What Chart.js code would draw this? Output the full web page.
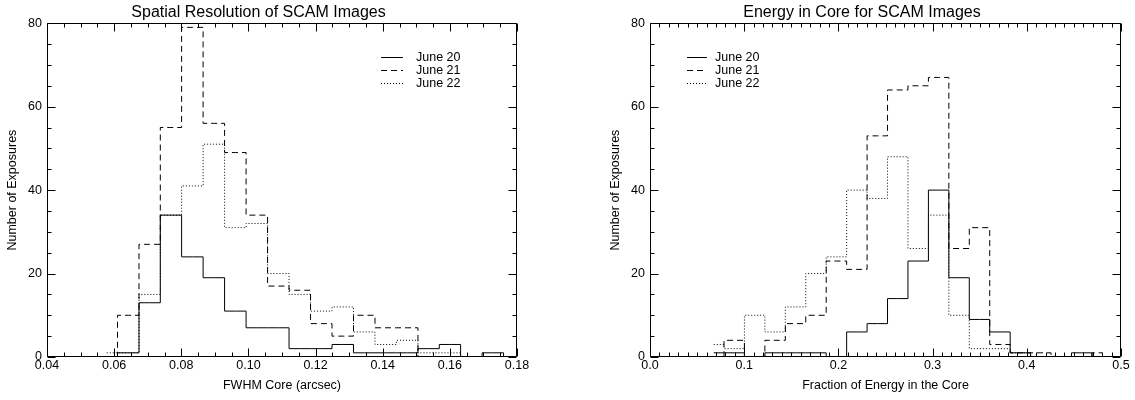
<!DOCTYPE html>
<html>
<head>
<meta charset="utf-8">
<script src="https://cdn.jsdelivr.net/npm/chart.js@4.4.0/dist/chart.umd.min.js"></script>
<style>
  body { margin: 0; background: #fff; width: 1135px; height: 400px; overflow: hidden; position: relative; }
  canvas { position: absolute; top: 0; }
  #fwhmChart { left: 0; }
  #energyChart { left: 603px; }
</style>
</head>
<body>
<canvas id="fwhmChart" width="567" height="400"></canvas>
<canvas id="energyChart" width="532" height="400"></canvas>
<script>
// FWHM histogram: bin centres (arcsec) and counts per night
const fwhmBins = [0.0578, 0.0642, 0.0706, 0.0769, 0.0833, 0.0897, 0.0961, 0.1025, 0.1089, 0.1153,
                  0.1217, 0.1281, 0.1345, 0.1409, 0.1473, 0.1537, 0.1600, 0.1664, 0.1728, 0.1792];
const fwhmJune20 = [0, 1, 13, 34, 24, 19, 11, 7, 7, 2, 2, 3, 1, 1, 1, 2, 3, 0, 1, 0];
const fwhmJune21 = [0, 10, 27, 55, 79, 56, 49, 34, 17, 16, 8, 5, 10, 7, 7, 0, 0, 0, 0, 0];
const fwhmJune22 = [1, 1, 15, 34, 41, 51, 31, 32, 20, 15, 11, 12, 6, 3, 4, 1, 1, 0, 0, 0];

// Energy-in-core histogram: bin centres (fraction) and counts per night
const energyBins = [0.0677, 0.0894, 0.1111, 0.1328, 0.1545, 0.1762, 0.1979, 0.2196, 0.2413, 0.2630,
                    0.2847, 0.3064, 0.3281, 0.3498, 0.3715, 0.3932, 0.4149, 0.4366, 0.4583, 0.4800];
const energyJune20 = [1, 1, 0, 1, 1, 1, 0, 6, 8, 14, 23, 40, 19, 9, 6, 1, 0, 0, 1, 0];
const energyJune21 = [0, 4, 0, 4, 8, 10, 23, 21, 53, 64, 65, 67, 26, 31, 3, 1, 1, 0, 0, 1];
const energyJune22 = [3, 2, 10, 6, 12, 20, 24, 40, 38, 48, 26, 34, 10, 2, 2, 1, 0, 0, 0, 0];

const nights = ['June 20', 'June 21', 'June 22'];
const FONT = "'Liberation Sans', Arial, Helvetica, sans-serif";

function steps(min, max, step) {
  const n = Math.round((max - min) / step);
  const out = [];
  for (let i = 0; i <= n; i++) out.push(min + i * step);
  return out;
}

// box around the plot with inward ticks on all four sides (IDL style)
const idlFrame = {
  id: 'idlFrame',
  afterDatasetsDraw(chart, args, opts) {
    const { ctx, chartArea: a, scales: { x, y } } = chart;
    const L = Math.round(a.left) + 0.5, R = Math.round(a.right) - 0.5;
    const T = Math.round(a.top) + 0.5, B = Math.round(a.bottom) - 0.5;
    ctx.save();
    ctx.strokeStyle = '#000';
    ctx.lineWidth = 1;
    ctx.beginPath();
    ctx.rect(L, T, R - L, B - T);
    steps(x.min, x.max, opts.xMinor).forEach(v => {
      const r = (v - x.min) / opts.xMajor;
      const len = Math.abs(r - Math.round(r)) < 1e-6 ? 8 : 4;
      const px = Math.round(x.getPixelForValue(v)) + 0.5;
      ctx.moveTo(px, B); ctx.lineTo(px, B - len);
      ctx.moveTo(px, T); ctx.lineTo(px, T + len);
    });
    steps(y.min, y.max, opts.yMinor).forEach(v => {
      const r = (v - y.min) / opts.yMajor;
      const len = Math.abs(r - Math.round(r)) < 1e-6 ? 8 : 4;
      const py = Math.round(y.getPixelForValue(v)) + 0.5;
      ctx.moveTo(L, py); ctx.lineTo(L + len, py);
      ctx.moveTo(R, py); ctx.lineTo(R - len, py);
    });
    ctx.stroke();
    ctx.restore();
  }
};

// legend drawn inside the plot
const idlLegend = {
  id: 'idlLegend',
  afterDraw(chart, args, opts) {
    const { ctx, chartArea: a } = chart;
    ctx.save();
    ctx.font = '12.5px ' + FONT;
    ctx.textBaseline = 'middle';
    ctx.fillStyle = '#000';
    ctx.strokeStyle = '#000';
    ctx.lineWidth = 1;
    chart.data.datasets.forEach((ds, i) => {
      const yy = Math.round(a.top + opts.top + i * opts.rowHeight) + 0.5;
      const x0 = a.left + opts.left;
      ctx.setLineDash(ds.borderDash || []);
      ctx.beginPath();
      ctx.moveTo(x0, yy);
      ctx.lineTo(x0 + opts.lineLength, yy);
      ctx.stroke();
      ctx.setLineDash([]);
      ctx.fillText(ds.label, x0 + opts.textOffset, yy);
    });
    ctx.restore();
  }
};

const dashes = [[], [6, 4], [1, 2]];

function histChart(id, c) {
  return new Chart(document.getElementById(id), {
    type: 'line',
    data: {
      datasets: c.series.map((vals, k) => ({
        label: nights[k],
        data: c.bins.map((b, i) => ({ x: b, y: vals[i] })),
        stepped: 'middle',
        borderColor: '#000',
        borderWidth: 1,
        borderDash: dashes[k],
        pointRadius: 0,
        fill: false
      }))
    },
    options: {
      responsive: false,
      animation: false,
      devicePixelRatio: 1,
      layout: { padding: { left: 0, right: c.padRight, top: 0, bottom: 0 } },
      plugins: {
        legend: { display: false },
        tooltip: { enabled: false },
        title: {
          display: true,
          text: c.title,
          color: '#000',
          font: { family: FONT, size: 16, weight: 'normal' },
          padding: { top: 3, bottom: 1 }
        },
        idlFrame: { xMinor: c.xMinor, xMajor: c.xStep, yMinor: 5, yMajor: 20 },
        idlLegend: c.legend
      },
      scales: {
        x: {
          type: 'linear',
          min: c.xMin,
          max: c.xMax,
          grid: { display: false, drawTicks: false },
          border: { display: false },
          ticks: {
            stepSize: c.xStep,
            autoSkip: false,
            maxRotation: 0,
            padding: 1,
            color: '#000',
            font: { family: FONT, size: 12.5 },
            callback: v => v.toFixed(c.xDigits)
          },
          title: {
            display: true,
            text: c.xTitle,
            color: '#000',
            font: { family: FONT, size: 12.5 },
            padding: { top: 0, bottom: 7 }
          },
          afterFit: s => { s.height = 43; }
        },
        y: {
          min: 0,
          max: 80,
          grid: { display: false, drawTicks: false },
          border: { display: false },
          ticks: {
            stepSize: 20,
            padding: 5,
            color: '#000',
            font: { family: FONT, size: 12.5 }
          },
          title: {
            display: true,
            text: 'Number of Exposures',
            color: '#000',
            font: { family: FONT, size: 12.5 },
            padding: { top: 5, bottom: 0 }
          },
          afterFit: s => { s.width = 47; }
        }
      }
    },
    plugins: [idlFrame, idlLegend]
  });
}

histChart('fwhmChart', {
  title: 'Spatial Resolution of SCAM Images',
  xTitle: 'FWHM Core (arcsec)',
  bins: fwhmBins,
  series: [fwhmJune20, fwhmJune21, fwhmJune22],
  xMin: 0.04, xMax: 0.18, xStep: 0.02, xMinor: 0.005, xDigits: 2,
  padRight: 50,
  legend: { left: 334, top: 34.2, rowHeight: 12.7, lineLength: 22, textOffset: 35 }
});

histChart('energyChart', {
  title: 'Energy in Core for SCAM Images',
  xTitle: 'Fraction of Energy in the Core',
  bins: energyBins,
  series: [energyJune20, energyJune21, energyJune22],
  xMin: 0, xMax: 0.5, xStep: 0.1, xMinor: 0.01, xDigits: 1,
  padRight: 14,
  legend: { left: 37, top: 34.2, rowHeight: 12.7, lineLength: 20, textOffset: 28 }
});
</script>
</body>
</html>
